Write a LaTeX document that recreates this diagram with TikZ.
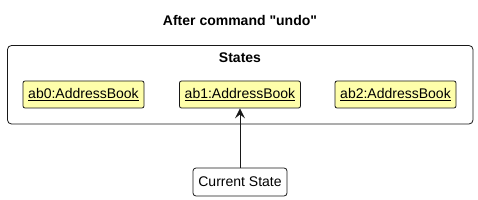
\documentclass[tikz,border=0pt]{standalone}
\usepackage{fontspec}
\setmainfont{Liberation Sans}[Ligatures=TeXOff]
\usepackage{tikz}
\usetikzlibrary{arrows.meta,positioning}
\definecolor{objfill}{HTML}{FEFEAA}
\definecolor{linecol}{HTML}{181818}
\tikzset{
	objbox/.style={draw=linecol,fill=objfill,rounded corners=2pt,line width=0.8pt,minimum width=121pt,minimum height=27pt,inner sep=0pt,font=\fontsize{14}{16}\selectfont},
	statebox/.style={draw=linecol,fill=white,rounded corners=3pt,line width=0.8pt,minimum width=94pt,minimum height=28pt,inner sep=0pt,font=\fontsize{14}{16}\selectfont},
}
\newcommand{\objname}[1]{\underline{#1}}
\begin{document}
\begin{tikzpicture}[x=1pt,y=-1pt]
				\useasboundingbox (0,0) rectangle (478,200);
				%\draw[color=gray,step=10pt, help lines,opacity=0.3] (0,0) grid (478,200); %help grids
				\node (title) at (240,20) {\fontsize{14}{16}\selectfont\bfseries After command "undo"};
				\draw[draw=linecol,line width=0.8pt,rounded corners=4pt] (7.5,45.5) rectangle (473,124);
				\node (frametitle) at (240,58) {\fontsize{14}{16}\selectfont\bfseries States};
				\node[objbox] (ab0) at (83.5,94.5) {\objname{ab0:AddressBook}};
				\node[objbox] (ab1) at (240,94.5) {\objname{ab1:AddressBook}};
				\node[objbox] (ab2) at (395.5,94.5) {\objname{ab2:AddressBook}};
				\node[statebox] (current) at (240,182) {Current State};
				\draw[-{Stealth[length=10pt,width=10pt,inset=4pt,line width=0.8pt]},line width=0.8pt,draw=linecol] (current)--(ab1);
\end{tikzpicture}
\end{document}
